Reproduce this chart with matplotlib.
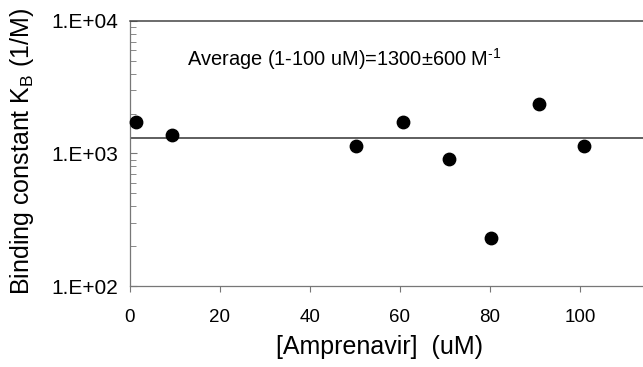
import math
import matplotlib.pyplot as plt
from matplotlib.ticker import FixedLocator, FuncFormatter, LogLocator, NullFormatter

plt.rcParams['font.family'] = ['Liberation Sans', 'DejaVu Sans']
plt.rcParams['mathtext.fontset'] = 'custom'
plt.rcParams['mathtext.rm'] = 'Liberation Sans'

# binding constant vs inhibitor concentration
amprenavir_uM = [1.3, 9.3, 50.2, 60.7, 71.0, 80.3, 90.8, 101.0]
kb_per_M = [1720, 1385, 1130, 1725, 912, 230, 2370, 1130]
kb_average = 1300

fig = plt.figure(figsize=(6.43, 3.67), dpi=100)
ax = fig.add_axes([0.2017, 0.2207, 0.7983, 0.7221])

ax.scatter(amprenavir_uM, kb_per_M, s=80, color='black', zorder=3, clip_on=False)
ax.axhline(kb_average, color='#333333', lw=1.1, zorder=2)

ax.set_yscale('log')
ax.set_ylim(100, 10000)
ax.set_xlim(0, 114)

ax.xaxis.set_major_locator(FixedLocator([0, 20, 40, 60, 80, 100]))
ax.yaxis.set_major_locator(FixedLocator([100, 1000, 10000]))
ax.yaxis.set_minor_locator(LogLocator(base=10, subs=range(2, 10)))
ax.yaxis.set_minor_formatter(NullFormatter())
ax.yaxis.set_major_formatter(FuncFormatter(lambda v, p: '1.E+%02d' % round(math.log10(v))))

ax.tick_params(axis='y', which='major', direction='in', length=5, width=0.8,
               color='#777777', labelsize=15, pad=8)
ax.tick_params(axis='y', which='minor', direction='in', length=4, width=0.7, color='#888888')
ax.tick_params(axis='x', which='major', direction='out', length=4.5, width=0.8,
               color='#777777', labelsize=13.5, pad=12)

for side in ['left', 'bottom']:
    ax.spines[side].set_color('#777777')
    ax.spines[side].set_linewidth(0.9)
ax.spines['top'].set_color('#444444')
ax.spines['top'].set_linewidth(1.1)
ax.spines['right'].set_visible(False)

ax.set_xlabel('[Amprenavir]  (uM)', fontsize=18)
ax.xaxis.set_label_coords(0.4876, -0.185)
ax.set_ylabel('Binding constant K$_\\mathregular{B}$ (1/M)', fontsize=18)
ax.yaxis.set_label_coords(-0.182, 0.507)

ax.text(0.111, 0.855, 'Average (1-100 uM)=1300\u00b1600 M$^{\\mathregular{\\text{-}1}}$',
        transform=ax.transAxes, fontsize=14.4, va='center', ha='left')

fig.savefig('out.png', dpi=100)
